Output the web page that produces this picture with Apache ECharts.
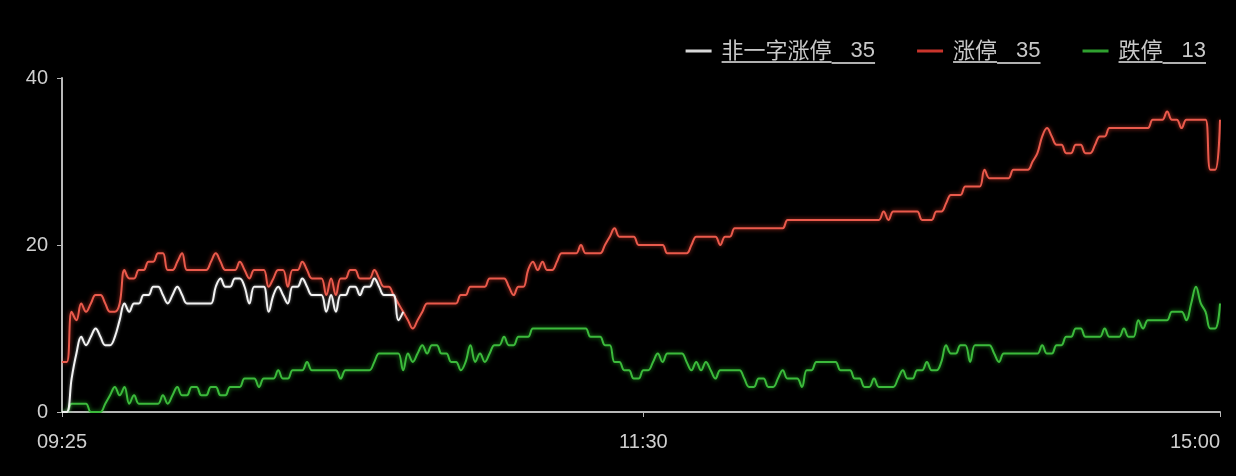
<!DOCTYPE html>
<html><head><meta charset="utf-8">
<script src="https://cdn.jsdelivr.net/npm/echarts@6/dist/echarts.min.js"></script>
<style>html,body{margin:0;padding:0;background:#000}#c{width:1236px;height:476px}</style>
</head><body><div id="c"></div>
<script>
// categories: 09:25 auction, 09:30-11:30, 13:01-15:00
function pad(n){return (n<10?'0':'')+n;}
const categories = ['09:25'];
for (let m = 9*60+30; m <= 11*60+30; m++) categories.push(pad(Math.floor(m/60))+':'+pad(m%60));
for (let m = 13*60+1; m <= 15*60; m++) categories.push(pad(Math.floor(m/60))+':'+pad(m%60));

const tickLabels = ['09:25','11:30','15:00'];
const yTicks = [0,20,40];

const seriesNames = ['非一字涨停 35','涨停 35','跌停 13'];

// 非一字涨停 (ends before 10:40)
const feiYiZi = [
0,0,4,7,9,8,9,10,9,8,
8,9,11,13,12,13,13,14,14,15,
15,14,13,14,15,14,13,13,13,13,
13,13,15,16,15,15,16,16,15,13,
15,15,15,12,14,15,14,13,15,15,
16,15,14,14,14,12,14,12,14,14,
15,15,14,15,15,16,15,14,14,14,
11,12
];

// 涨停
const zhangTing = [
6,6,12,11,13,12,13,14,14,13,
12,12,13,17,16,16,17,17,18,18,
19,19,17,17,18,19,17,17,17,17,
17,18,19,18,17,17,17,18,17,16,
17,17,17,15,16,17,17,15,17,17,
18,17,16,16,16,14,16,14,16,16,
17,17,16,16,16,17,16,15,15,14,
13,12,11,10,11,12,13,13,13,13,
13,13,13,14,14,15,15,15,15,16,
16,16,16,15,14,15,15,17,18,17,
18,17,17,18,19,19,19,19,20,19,
19,19,19,20,21,22,21,21,21,21,
20,20,20,20,20,20,19,19,19,19,
19,20,21,21,21,21,21,20,21,21,
22,22,22,22,22,22,22,22,22,22,
22,23,23,23,23,23,23,23,23,23,
23,23,23,23,23,23,23,23,23,23,
23,24,23,24,24,24,24,24,24,23,
23,23,24,24,25,26,26,26,27,27,
27,27,29,28,28,28,28,28,29,29,
29,29,30,31,33,34,33,32,32,31,
31,32,32,31,31,32,33,33,34,34,
34,34,34,34,34,34,34,35,35,35,
36,35,35,34,35,35,35,35,35,29,
29,35
];

// 跌停
const dieTing = [
0,0,1,1,1,1,0,0,0,1,
2,3,2,3,1,2,1,1,1,1,
1,2,1,2,3,2,2,3,3,2,
2,3,3,2,2,3,3,3,4,4,
4,3,4,4,4,5,4,4,5,5,
5,6,5,5,5,5,5,5,4,5,
5,5,5,5,5,6,7,7,7,7,
7,5,7,6,7,8,7,8,8,7,
7,6,6,5,6,8,6,7,6,7,
8,8,9,8,8,9,9,9,10,10,
10,10,10,10,10,10,10,10,10,10,
9,9,9,8,8,6,6,5,5,4,
4,5,5,6,7,6,7,7,7,7,
6,5,6,5,6,5,4,5,5,5,
5,5,4,3,3,4,4,3,3,4,
5,4,4,4,3,5,5,6,6,6,
6,6,5,5,5,4,4,3,3,4,
3,3,3,3,4,5,4,4,5,5,
6,5,5,6,8,7,7,8,8,6,
8,8,8,8,7,6,7,7,7,7,
7,7,7,7,8,7,7,8,8,9,
9,10,10,9,9,9,9,10,9,9,
9,10,9,9,11,10,11,11,11,11,
11,12,12,12,11,13,15,13,12,10,
10,13
];

const chart = echarts.init(document.getElementById('c'));
const underline = () => new echarts.graphic.LinearGradient(0,0,0,1,[
  {offset:0,color:'rgba(0,0,0,0)'},{offset:0.92,color:'rgba(0,0,0,0)'},
  {offset:0.92,color:'#b0b0b0'},{offset:1,color:'#b0b0b0'}]);
const cjk = '"Noto Sans CJK SC", sans-serif';
const latin = '"Liberation Sans", sans-serif';
chart.setOption({
  backgroundColor:'#000',
  animation:false,
  grid:{left:62,right:16,top:78,bottom:64},
  legend:{
    right:25, top:33, itemGap:42, itemWidth:26, itemHeight:3, icon:'rect',
    data:[
      {name:seriesNames[0], itemStyle:{color:'#d8d8d8'}},
      {name:seriesNames[1], itemStyle:{color:'#c9352c'}},
      {name:seriesNames[2], itemStyle:{color:'#2fa02f'}}
    ],
    formatter: n => { const p = n.split(' '); return '{g|}{u|'+p[0]+'}{n|'+p[1]+'}'; },
    textStyle:{color:'#c8c8c8', fontSize:22, fontFamily:cjk,
      rich:{
        g:{width:5, height:22},
        u:{color:'#c8c8c8', fontSize:22, fontFamily:cjk, backgroundColor:underline(), padding:[0,0,2,0]},
        n:{color:'#c8c8c8', fontSize:22, fontFamily:latin, backgroundColor:underline(), padding:[2,0,2,19]}
      }}
  },
  xAxis:{
    type:'category', data:categories, boundaryGap:false,
    axisLine:{lineStyle:{color:'#b8b8b8', width:2}},
    axisTick:{show:true, length:5, lineStyle:{color:'#b8b8b8'},
      interval:(i,v)=>tickLabels.includes(v)},
    axisLabel:{color:'#cfcfcf', fontSize:20, margin:20, fontFamily:latin,
      interval:(i,v)=>tickLabels.includes(v), alignMaxLabel:'right'},
    splitLine:{show:false}
  },
  yAxis:{
    type:'value', min:yTicks[0], max:yTicks[2], interval:yTicks[1]-yTicks[0],
    axisLine:{show:true, lineStyle:{color:'#b8b8b8', width:2}},
    axisTick:{show:true, length:5, lineStyle:{color:'#b8b8b8'}},
    axisLabel:{color:'#cfcfcf', fontSize:20, margin:14, fontFamily:latin, padding:[5,0,0,0]},
    splitLine:{show:false}
  },
  series:[
    {name:seriesNames[1], type:'line', data:zhangTing, showSymbol:false, smooth:0.4,
      lineStyle:{color:'#ea5a4c', width:2, shadowColor:'rgba(255,70,50,0.7)', shadowBlur:4}, itemStyle:{color:'#c9352c'}},
    {name:seriesNames[2], type:'line', data:dieTing, showSymbol:false, smooth:0.4,
      lineStyle:{color:'#3cba3c', width:2, shadowColor:'rgba(40,200,40,0.7)', shadowBlur:4}, itemStyle:{color:'#2fa02f'}},
    {name:seriesNames[0], type:'line', data:feiYiZi, showSymbol:false, smooth:0.4,
      lineStyle:{color:'#f2f2f2', width:2, shadowColor:'rgba(255,255,255,0.5)', shadowBlur:3}, itemStyle:{color:'#d8d8d8'}}
  ]
});
</script></body></html>
